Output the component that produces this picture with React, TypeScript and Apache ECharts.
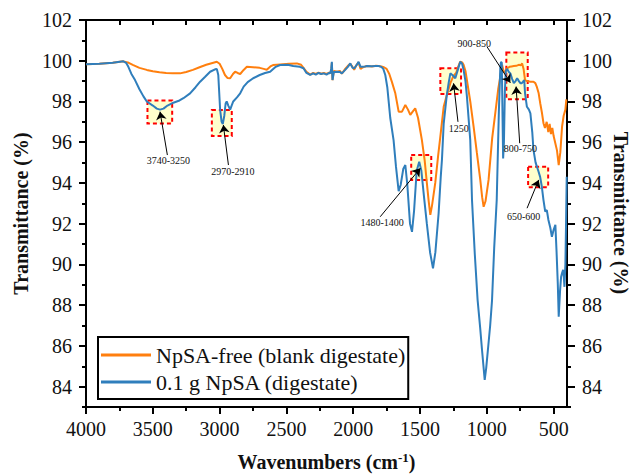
import React, { useEffect, useRef } from 'react';
import * as echarts from 'echarts';

const FONT = "'Liberation Serif', 'Times New Roman', serif";

// NpSA-free (blank digestate)
const blankWN = [4000, 3900, 3800, 3720, 3680, 3650, 3600, 3545, 3500, 3450, 3400, 3350, 3296, 3250, 3200, 3150, 3100, 3060, 3021, 3000, 2980, 2960, 2940, 2921, 2900, 2884, 2865, 2846, 2820, 2796, 2750, 2700, 2670, 2647, 2620, 2600, 2547, 2480, 2422, 2390, 2372, 2350, 2322, 2300, 2280, 2260, 2240, 2220, 2200, 2180, 2165, 2160, 2155, 2145, 2122, 2100, 2085, 2060, 2040, 2022, 2005, 1993, 1975, 1960, 1945, 1935, 1910, 1897, 1860, 1830, 1810, 1790, 1770, 1750, 1730, 1710, 1685, 1660, 1635, 1610, 1590, 1573, 1555, 1536, 1515, 1486, 1465, 1449, 1435, 1423, 1410, 1386, 1365, 1348, 1323, 1300, 1273, 1250, 1230, 1215, 1199, 1185, 1174, 1160, 1149, 1124, 1099, 1075, 1049, 1035, 1024, 1010, 987, 960, 937, 915, 899, 886, 875, 865, 849, 830, 815, 798, 780, 761, 745, 736, 725, 714, 700, 674, 651, 637, 625, 612, 600, 587, 576, 565, 552, 540, 530, 520, 510, 500, 487, 475, 462, 450, 437, 425, 412, 405];
const blankT = [99.83, 99.85, 99.9, 99.97, 99.9, 99.8, 99.65, 99.55, 99.48, 99.43, 99.4, 99.39, 99.38, 99.45, 99.55, 99.68, 99.8, 99.88, 99.95, 99.85, 99.6, 99.3, 99.15, 99.14, 99.35, 99.46, 99.4, 99.35, 99.55, 99.7, 99.68, 99.65, 99.6, 99.56, 99.72, 99.79, 99.82, 99.85, 99.87, 99.8, 99.65, 99.45, 99.32, 99.4, 99.35, 99.42, 99.36, 99.4, 99.35, 99.42, 99.4, 99.9, 99.05, 99.5, 99.46, 99.5, 99.36, 99.6, 99.75, 99.85, 99.7, 99.55, 99.8, 99.92, 99.6, 99.65, 99.72, 99.74, 99.72, 99.75, 99.74, 99.72, 99.68, 99.6, 99.35, 98.95, 98.4, 97.5, 97.5, 97.83, 97.6, 97.34, 97.5, 97.66, 97.2, 96.1, 95.1, 94.0, 93.1, 92.43, 92.9, 94.0, 95.3, 96.27, 97.74, 98.3, 98.9, 99.25, 99.4, 99.7, 99.95, 99.92, 99.8, 99.5, 99.05, 98.0, 96.76, 95.5, 94.15, 93.3, 92.83, 93.1, 94.15, 96.2, 97.42, 98.6, 99.22, 99.8, 99.5, 99.4, 99.63, 99.7, 99.72, 99.74, 99.75, 99.8, 99.78, 99.87, 99.6, 99.05, 99.0, 98.97, 98.97, 98.9, 98.7, 98.4, 97.9, 97.42, 96.93, 96.7, 97.0, 96.5, 96.9, 96.4, 96.7, 96.3, 95.94, 95.6, 94.88, 95.5, 96.76, 97.3, 97.6, 98.1];

// 0.1 g NpSA (digestate)
const npsaWN = [4000, 3900, 3800, 3720, 3700, 3683, 3660, 3633, 3600, 3570, 3545, 3500, 3470, 3446, 3420, 3390, 3346, 3300, 3271, 3221, 3180, 3146, 3110, 3071, 3034, 3021, 3010, 2996, 2985, 2976, 2965, 2955, 2947, 2935, 2921, 2910, 2898, 2870, 2846, 2820, 2790, 2749, 2700, 2660, 2622, 2580, 2547, 2490, 2449, 2400, 2372, 2350, 2322, 2300, 2280, 2260, 2240, 2220, 2200, 2180, 2172, 2165, 2160, 2155, 2145, 2122, 2100, 2085, 2060, 2040, 2022, 2005, 1993, 1975, 1960, 1945, 1935, 1910, 1897, 1860, 1830, 1810, 1790, 1775, 1760, 1745, 1723, 1698, 1680, 1660, 1645, 1625, 1610, 1595, 1575, 1560, 1545, 1525, 1506, 1490, 1470, 1449, 1425, 1403, 1385, 1361, 1345, 1336, 1323, 1300, 1286, 1273, 1250, 1236, 1215, 1199, 1185, 1174, 1160, 1149, 1124, 1111, 1090, 1069, 1050, 1036, 1016, 1005, 992, 975, 961, 945, 926, 910, 899, 894, 888, 882, 878, 872, 865, 858, 849, 835, 824, 810, 798, 785, 773, 760, 749, 738, 729, 720, 714, 700, 685, 674, 660, 651, 635, 615, 601, 588, 576, 563, 551, 539, 525, 513, 500, 487, 478, 469, 462, 452, 444, 436, 429, 424, 419, 412, 406, 402];
const npsaT = [99.83, 99.85, 99.9, 99.97, 99.9, 99.7, 99.35, 99.05, 98.6, 98.25, 98.0, 97.8, 97.65, 97.6, 97.65, 97.8, 97.94, 98.05, 98.16, 98.4, 98.7, 98.97, 99.2, 99.46, 99.58, 99.6, 99.3, 97.58, 97.0, 96.9, 97.3, 97.9, 98.0, 97.8, 97.6, 97.8, 98.0, 98.2, 98.4, 98.73, 98.95, 99.14, 99.3, 99.4, 99.46, 99.7, 99.79, 99.8, 99.74, 99.7, 99.63, 99.4, 99.3, 99.38, 99.32, 99.4, 99.35, 99.38, 99.32, 99.4, 99.38, 99.6, 99.95, 99.05, 99.45, 99.46, 99.45, 99.38, 99.55, 99.7, 99.87, 99.65, 99.63, 99.78, 99.95, 99.7, 99.7, 99.72, 99.74, 99.73, 99.74, 99.74, 99.7, 99.6, 99.3, 98.7, 97.2, 96.1, 94.8, 93.6, 93.9, 94.7, 94.88, 93.9, 92.0, 91.6, 92.6, 94.6, 95.04, 94.6, 93.3, 92.0, 90.6, 89.81, 90.6, 92.5, 94.3, 95.13, 96.9, 98.3, 98.9, 99.38, 99.25, 99.14, 99.6, 99.95, 99.85, 99.55, 99.0, 98.24, 96.1, 93.16, 90.5, 88.25, 86.9, 85.8, 84.33, 84.9, 85.8, 87.0, 88.25, 90.8, 93.16, 97.5, 99.7, 99.95, 99.9, 97.0, 95.2, 96.0, 98.5, 99.5, 99.6, 99.45, 99.38, 99.1, 98.9, 99.0, 99.14, 99.0, 98.9, 98.9, 98.97, 99.05, 98.4, 97.74, 97.6, 97.42, 96.5, 95.62, 95.0, 94.6, 94.3, 93.8, 93.16, 92.59, 92.67, 92.18, 91.8, 91.36, 91.7, 91.94, 90.6, 89.07, 87.43, 88.7, 89.4, 89.6, 89.73, 89.4, 88.9, 90.0, 92.5, 94.3];

const seriesNames = ['NpSA-free (blank digestate)', '0.1 g NpSA (digestate)'];
const yTitle = 'Transmittance (%)';

// axis ticks
const xMajor = [500, 1000, 1500, 2000, 2500, 3000, 3500, 4000];
const xMinor = [750, 1250, 1750, 2250, 2750, 3250, 3750];
const xTop = [500, 750, 1000, 1250, 1500, 1750, 2000, 2250, 2500, 2750, 3000, 3250, 3500, 3750];
const yMajor = [84, 86, 88, 90, 92, 94, 96, 98, 100, 102];
const yMinor = [83, 85, 87, 89, 91, 93, 95, 97, 99, 101];

// annotations (data coordinates): highlighted regions [w1, T1, w2, T2]
const boxes = [
  [3540, 98.05, 3355, 96.92],
  [3058, 97.58, 2909, 96.31],
  [1566, 95.37, 1416, 94.15],
  [1348, 99.63, 1193, 98.37],
  [854, 100.41, 694, 98.11],
  [691, 94.8, 541, 93.79],
];
// arrows [tailW, tailT, headW, headT]
const arrows = [
  [3391, 95.37, 3446, 97.5],
  [2934, 94.88, 2972, 96.85],
  [1798, 92.34, 1498, 94.72],
  [1216, 97.0, 1249, 98.89],
  [999, 100.69, 824, 98.92],
  [754, 95.95, 781, 98.73],
  [699, 92.76, 612, 94.15],
];
const labelTexts = ['3740-3250', '2970-2910', '1480-1400', '1250', '900-850', '800-750', '650-600'];
const labelPos = [
  [3384, 95.09],
  [2901, 94.55],
  [1783, 92.08],
  [1211, 96.68],
  [1094, 100.87],
  [749, 95.7],
  [724, 92.34],
];

export default function App() {
  const ref = useRef<HTMLDivElement>(null);
  useEffect(() => {
    if (!ref.current) return;
    const chart = echarts.init(ref.current, undefined, { renderer: 'svg' });
    const black = '#000';
    const tickLabel = { fontFamily: FONT, fontSize: 20, color: '#111', formatter: (v: number) => String(v) };
    const xBase = { type: 'value', min: 400, max: 4000, inverse: true, splitLine: { show: false } };
    const yBase = { type: 'value', min: 83, max: 102, splitLine: { show: false } };
    const nameStyle = { fontFamily: FONT, fontSize: 20, fontWeight: 'bold', color: '#111' };
    chart.setOption({
      animation: false,
      backgroundColor: '#fff',
      textStyle: { fontFamily: FONT },
      grid: [
        { left: 86, right: 66, top: 20, bottom: 69, containLabel: false, outerBoundsMode: 'none' },
        { left: 86, right: 66, top: 20, bottom: 69, containLabel: false, outerBoundsMode: 'none' },
      ],
      graphic: [
        {
          type: 'text',
          x: 621,
          y: 213,
          rotation: -Math.PI / 2,
          silent: true,
          style: {
            text: yTitle,
            fontFamily: FONT,
            fontSize: 20,
            fontWeight: 'bold',
            fill: '#111',
            align: 'center',
            verticalAlign: 'middle',
          },
        },
      ],
      legend: {
        data: seriesNames.map((n) => ({ name: n, icon: 'rect' })),
        orient: 'vertical',
        left: 98,
        top: 337,
        itemWidth: 50,
        itemHeight: 3,
        itemGap: 5,
        padding: [7, 3, 6, 3],
        borderColor: '#000',
        borderWidth: 2,
        backgroundColor: '#fff',
        textStyle: { fontFamily: FONT, fontSize: 22, color: '#111' },
      },
      xAxis: [
        {
          ...xBase,
          gridIndex: 0,
          position: 'bottom',
          axisLine: { show: true, lineStyle: { color: black, width: 2 } },
          axisTick: { show: true, customValues: xMajor, length: 7, lineStyle: { color: black, width: 2 } },
          axisLabel: { ...tickLabel, customValues: xMajor, margin: 12 },
          name: '{b|Wavenumbers (cm}{s|-1}{b|)}',
          nameLocation: 'middle',
          nameGap: 44,
          nameTextStyle: {
            rich: {
              b: { fontFamily: FONT, fontSize: 20, fontWeight: 'bold', color: '#111', lineHeight: 22 },
              s: { fontFamily: FONT, fontSize: 13, fontWeight: 'bold', color: '#111', verticalAlign: 'top', lineHeight: 22 },
            },
          },
        },
        {
          ...xBase,
          gridIndex: 0,
          position: 'top',
          axisLine: { show: true, lineStyle: { color: black, width: 2 } },
          axisTick: { show: true, inside: true, customValues: xTop, length: 5, lineStyle: { color: black, width: 2 } },
          axisLabel: { show: false },
        },
        {
          ...xBase,
          gridIndex: 1,
          position: 'bottom',
          axisLine: { show: false },
          axisTick: { show: true, customValues: xMinor, length: 4, lineStyle: { color: black, width: 2 } },
          axisLabel: { show: false },
        },
      ],
      yAxis: [
        {
          ...yBase,
          gridIndex: 0,
          position: 'left',
          axisLine: { show: true, lineStyle: { color: black, width: 2 } },
          axisTick: { show: true, customValues: yMajor, length: 7, lineStyle: { color: black, width: 2 } },
          axisLabel: { ...tickLabel, customValues: yMajor, margin: 14 },
          name: yTitle,
          nameLocation: 'middle',
          nameGap: 54,
          nameTextStyle: nameStyle,
        },
        {
          ...yBase,
          gridIndex: 0,
          position: 'right',
          axisLine: { show: true, lineStyle: { color: black, width: 2 } },
          axisTick: { show: true, customValues: yMajor, length: 8, lineStyle: { color: black, width: 2 } },
          axisLabel: { ...tickLabel, customValues: yMajor, margin: 15 },
        },
        {
          ...yBase,
          gridIndex: 1,
          position: 'left',
          axisLine: { show: false },
          axisTick: { show: true, customValues: yMinor, length: 4, lineStyle: { color: black, width: 2 } },
          axisLabel: { show: false },
        },
        {
          ...yBase,
          gridIndex: 1,
          position: 'right',
          axisLine: { show: false },
          axisTick: { show: true, customValues: yMinor, length: 4, lineStyle: { color: black, width: 2 } },
          axisLabel: { show: false },
        },
      ],
      series: [
        {
          name: seriesNames[0],
          type: 'line',
          xAxisIndex: 0,
          yAxisIndex: 0,
          showSymbol: false,
          color: '#ff7f0e',
          lineStyle: { width: 2, color: '#ff7f0e' },
          data: blankWN.map((w, i) => [w, blankT[i]]),
          z: 2,
        },
        {
          name: seriesNames[1],
          type: 'line',
          xAxisIndex: 0,
          yAxisIndex: 0,
          showSymbol: false,
          color: '#2f7ebc',
          lineStyle: { width: 2, color: '#2f7ebc' },
          data: npsaWN.map((w, i) => [w, npsaT[i]]),
          z: 3,
        },
        {
          name: 'annotations',
          type: 'line',
          xAxisIndex: 0,
          yAxisIndex: 0,
          data: [],
          z: 5,
          silent: true,
          markArea: {
            silent: true,
            itemStyle: {
              color: 'rgba(255,255,170,0.6)',
              borderColor: '#ff0000',
              borderWidth: 2,
              borderType: [4, 3],
            },
            label: { show: false },
            data: boxes.map((b) => [{ coord: [b[0], b[1]] }, { coord: [b[2], b[3]] }]),
          },
          markLine: {
            silent: true,
            symbol: ['none', 'arrow'],
            symbolSize: 8,
            label: { show: false },
            lineStyle: { color: '#000', width: 1, type: 'solid' },
            data: arrows.map((a) => [{ coord: [a[0], a[1]] }, { coord: [a[2], a[3]] }]),
          },
          markPoint: {
            silent: true,
            symbol: 'circle',
            symbolSize: 1,
            itemStyle: { color: 'rgba(0,0,0,0)' },
            label: {
              show: true,
              position: 'inside',
              fontFamily: FONT,
              fontSize: 10,
              color: '#111',
              formatter: (p: any) => p.name,
            },
            data: labelPos.map((p, i) => ({ name: labelTexts[i], coord: p })),
          },
        },
      ],
    });
    return () => chart.dispose();
  }, []);
  return <div ref={ref} style={{ position: 'fixed', left: 0, top: 0, width: 633, height: 476 }} />;
}
